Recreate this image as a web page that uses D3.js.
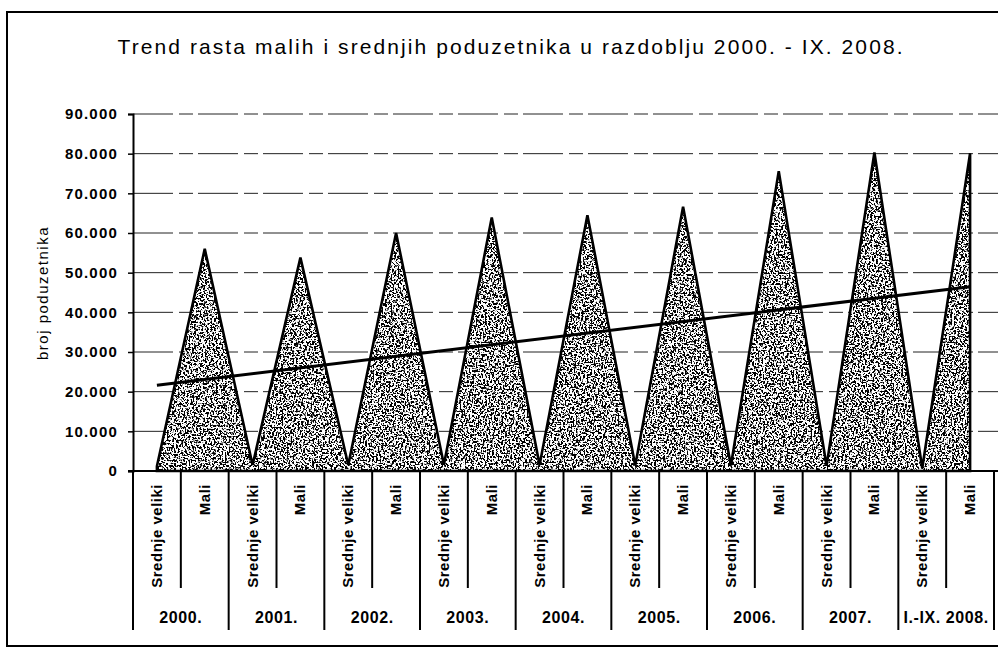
<!DOCTYPE html>
<html>
<head>
<meta charset="utf-8">
<script src="https://cdn.jsdelivr.net/npm/d3@7"></script>
<style>
  body { margin: 0; background: #fff; }
  svg text { font-family: "Liberation Sans", Arial, sans-serif; fill: #000; }
</style>
</head>
<body>
<svg id="chart" width="998" height="649"></svg>
<script>
// years along the lower axis level
const years = ['2000.', '2001.', '2002.', '2003.', '2004.', '2005.', '2006.', '2007.', 'I.-IX. 2008.']
// the two size classes in each year
const sizes = ['Srednje veliki', 'Mali']
const srednjeVeliki = [1200, 1500, 1500, 1600, 1500, 1400, 1400, 1300, 700]
const mali = [56000, 53800, 60000, 63900, 64500, 66600, 75600, 80300, 80100]
const yTicks = [0, 10000, 20000, 30000, 40000, 50000, 60000, 70000, 80000, 90000]

// flatten into the 18 category points
let points = []
years.forEach((yr, i) => {
  points.push({year: yr, size: sizes[0], value: srednjeVeliki[i]})
  points.push({year: yr, size: sizes[1], value: mali[i]})
})
points.forEach((d, i) => { d.i = i })

let svg = d3.select('#chart')

let x = d3.scaleBand()
  .domain(points.map(d => d.i))
  .range([133, 994])
let y = d3.scaleLinear()
  .domain([0, 90000])
  .range([471, 114])
let cx = i => x(i) + x.bandwidth() / 2
let fmt = v => d3.format(',')(v).replace(/,/g, '.')

// stipple texture for the area
let defs = svg.append('defs')
let filter = defs.append('filter')
  .attr('id', 'stipple')
  .attr('x', 0).attr('y', 0).attr('width', 1).attr('height', 1)
filter.append('feTurbulence')
  .attr('type', 'fractalNoise')
  .attr('baseFrequency', 0.55)
  .attr('numOctaves', 2)
  .attr('seed', 3)
  .attr('result', 'noise')
filter.append('feColorMatrix')
  .attr('in', 'noise')
  .attr('type', 'matrix')
  .attr('values', '0 0 0 0 0  0 0 0 0 0  0 0 0 0 0  14 0 0 0 -6.8')
  .attr('result', 'dots')
filter.append('feComposite')
  .attr('in', 'dots')
  .attr('in2', 'SourceGraphic')
  .attr('operator', 'in')

// outer frame
svg.append('rect')
  .attr('x', 7).attr('y', 12)
  .attr('width', 1010).attr('height', 634)
  .attr('fill', 'none')
  .attr('stroke', '#000')
  .attr('stroke-width', 2)

svg.append('text')
  .attr('x', 510).attr('y', 54)
  .attr('text-anchor', 'middle')
  .attr('font-size', 21)
  .attr('textLength', 785)
  .attr('lengthAdjust', 'spacing')
  .text('Trend rasta malih i srednjih poduzetnika u razdoblju 2000. - IX. 2008.')

// gridlines
svg.append('g')
  .selectAll('line')
  .data(yTicks.filter(v => v > 0))
  .enter()
  .append('line')
  .attr('x1', 133).attr('x2', 998)
  .attr('y1', d => y(d)).attr('y2', d => y(d))
  .attr('stroke', '#222')
  .attr('stroke-width', 1)
  .attr('stroke-dasharray', '40 6 14 5')

// area
let area = d3.area()
  .x(d => cx(d.i))
  .y0(y(0))
  .y1(d => y(d.value))

svg.append('path')
  .datum(points)
  .attr('d', area)
  .attr('fill', '#fff')
svg.append('path')
  .datum(points)
  .attr('d', area)
  .attr('fill', '#000')
  .attr('filter', 'url(#stipple)')
svg.append('path')
  .datum(points)
  .attr('d', area)
  .attr('fill', 'none')
  .attr('stroke', '#000')
  .attr('stroke-width', 2.6)
  .attr('stroke-linejoin', 'miter')

// linear trend (least squares over the 18 points)
let n = points.length
let mx = d3.mean(points, d => d.i)
let my = d3.mean(points, d => d.value)
let slope = d3.sum(points, d => (d.i - mx) * (d.value - my)) / d3.sum(points, d => (d.i - mx) ** 2)
let trend = i => my + slope * (i - mx)
svg.append('line')
  .attr('x1', cx(0)).attr('y1', y(trend(0)))
  .attr('x2', cx(n - 1)).attr('y2', y(trend(n - 1)))
  .attr('stroke', '#000')
  .attr('stroke-width', 3)

// y axis
let yAxis = svg.append('g')
  .attr('transform', 'translate(133,0)')
  .call(d3.axisLeft(y).tickValues(yTicks).tickFormat(fmt).tickSize(5).tickPadding(10))
yAxis.select('.domain').attr('stroke-width', 2)
yAxis.selectAll('line').attr('stroke-width', 1.5)
yAxis.selectAll('text')
  .attr('font-size', 15)
  .attr('font-weight', 'bold')
  .attr('letter-spacing', 1.2)
  .attr('font-family', '"Liberation Sans", Arial, sans-serif')

svg.append('text')
  .attr('transform', 'translate(48,293) rotate(-90)')
  .attr('text-anchor', 'middle')
  .attr('font-size', 15)
  .attr('letter-spacing', 1.5)
  .text('broj poduzetnika')

// x axis base line
svg.append('line')
  .attr('x1', 128).attr('x2', 998)
  .attr('y1', y(0)).attr('y2', y(0))
  .attr('stroke', '#000')
  .attr('stroke-width', 2)

// category table below
let xg = svg.append('g')
xg.selectAll('.divider')
  .data(d3.range(n + 1))
  .enter()
  .append('line')
  .attr('x1', i => i < n ? x(i) : x(n - 1) + x.bandwidth())
  .attr('x2', i => i < n ? x(i) : x(n - 1) + x.bandwidth())
  .attr('y1', y(0))
  .attr('y2', i => i % 2 === 0 ? 630 : 588)
  .attr('stroke', '#000')
  .attr('stroke-width', 2)

xg.selectAll('.cat')
  .data(points)
  .enter()
  .append('text')
  .attr('transform', d => `translate(${cx(d.i) + 5},484) rotate(-90)`)
  .attr('text-anchor', 'end')
  .attr('font-size', 15)
  .attr('font-weight', 'bold')
  .attr('letter-spacing', 0.5)
  .text(d => d.size)

xg.selectAll('.yr')
  .data(years)
  .enter()
  .append('text')
  .attr('x', (d, i) => x(i * 2) + x.bandwidth())
  .attr('y', 623)
  .attr('text-anchor', 'middle')
  .attr('font-size', 16)
  .attr('font-weight', 'bold')
  .attr('letter-spacing', 0.6)
  .text(d => d)
</script>
</body>
</html>
